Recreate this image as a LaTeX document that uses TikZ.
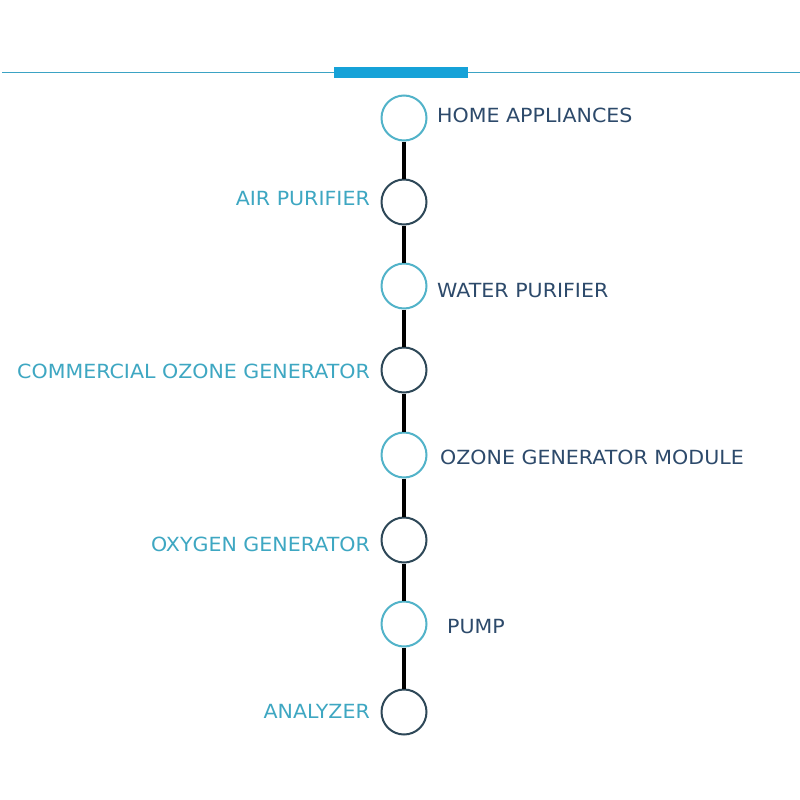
\documentclass[tikz,border=0pt]{standalone}
\usepackage{graphicx}
\usepackage{fontspec}
\setmainfont{DejaVu Sans}
\definecolor{lighttxt}{HTML}{3EA7C2}
\definecolor{darktxt}{HTML}{2D4A6B}
\definecolor{lightring}{HTML}{52B3C9}
\definecolor{darkring}{HTML}{2E4858}
\definecolor{barblue}{HTML}{16A2D8}
\definecolor{rule}{HTML}{3BA3C4}
\newcommand{\wide}[1]{\scalebox{1.055}[1]{#1}}
\begin{document}
\begin{tikzpicture}[x=1pt,y=-1pt,
  ring/.style={circle,draw,line width=2pt,minimum size=45pt,inner sep=0pt},
  lring/.style={ring,draw=lightring},
  dring/.style={ring,draw=darkring},
  lbl/.style={inner sep=0pt,font=\fontsize{19.5}{22}\selectfont},
  rlbl/.style={lbl,anchor=base west,text=darktxt},
  llbl/.style={lbl,anchor=base east,text=lighttxt},
  link/.style={line width=4pt,black}]
\useasboundingbox[fill=white] (0,0) rectangle (800,800);
\draw[rule,line width=1.2pt] (2,72.3) -- (800,72.3);
\fill[barblue] (334,66.8) rectangle (468,78.2);
\node[lring] (c1) at (404,118) {};
\node[dring] (c2) at (404,202) {};
\node[lring] (c3) at (404,286) {};
\node[dring] (c4) at (404,370) {};
\node[lring] (c5) at (404,455) {};
\node[dring] (c6) at (404,540) {};
\node[lring] (c7) at (404,624) {};
\node[dring] (c8) at (404,712) {};
\foreach \a/\b in {c1/c2,c2/c3,c3/c4,c4/c5,c5/c6,c6/c7,c7/c8}
  \draw[link] (\a) -- (\b);
\node[rlbl] (t1) at (437,122) {\wide{HOME APPLIANCES}};
\node[llbl] (t2) at (370,205) {\wide{AIR PURIFIER}};
\node[rlbl] (t3) at (437,297) {\wide{WATER PURIFIER}};
\node[llbl] (t4) at (370,378) {\wide{COMMERCIAL OZONE GENERATOR}};
\node[rlbl] (t5) at (440,464) {\wide{OZONE GENERATOR MODULE}};
\node[llbl] (t6) at (370,551) {\wide{OXYGEN GENERATOR}};
\node[rlbl] (t7) at (447,633) {\wide{PUMP}};
\node[llbl] (t8) at (370,718) {\wide{ANALYZER}};
\end{tikzpicture}
\end{document}
